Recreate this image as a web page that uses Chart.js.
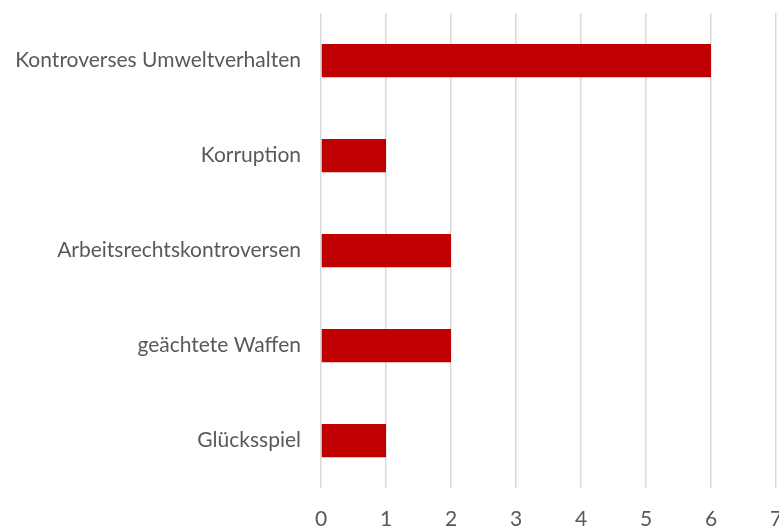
<!DOCTYPE html>
<html>
<head>
<meta charset="utf-8">
<script src="https://cdn.jsdelivr.net/npm/chart.js@4"></script>
<style>
  html, body { margin: 0; padding: 0; background: #fff; overflow: hidden; }
  #wrap { position: absolute; left: 0; top: 0; width: 790px; height: 526px; }
</style>
</head>
<body>
<div id="wrap"><canvas id="kontroversen" width="790" height="526"></canvas></div>
<script>
var kategorien = ["Kontroverses Umweltverhalten", "Korruption", "Arbeitsrechtskontroversen", "geächtete Waffen", "Glücksspiel"];
var anzahl = [6, 1, 2, 2, 1];
var achseMin = 0;
var achseMax = 7;

var ctx = document.getElementById("kontroversen").getContext('2d');
var chart = new Chart(ctx, {
    type: 'bar',
    data: {
        labels: kategorien,
        datasets: [{
            label: 'Anzahl',
            data: anzahl,
            backgroundColor: '#C00000',
            borderWidth: 0,
            categoryPercentage: 1,
            barPercentage: 0.35
        }]
    },
    options: {
        indexAxis: 'y',
        responsive: false,
        animation: false,
        layout: {
            padding: { top: 13, right: 14, left: 0, bottom: 0 }
        },
        plugins: {
            legend: { display: false },
            tooltip: { enabled: false }
        },
        scales: {
            x: {
                min: achseMin,
                max: achseMax,
                ticks: {
                    stepSize: 1,
                    color: '#595959',
                    padding: 19,
                    font: { family: 'Lato', size: 21 }
                },
                grid: {
                    color: '#d9d9d9',
                    lineWidth: 1.5,
                    drawTicks: false
                },
                border: { display: false },
                afterFit: function (scale) {
                    scale.height = 38;
                    scale.paddingLeft = 0;
                    scale.paddingRight = 0;
                }
            },
            y: {
                ticks: {
                    color: '#595959',
                    padding: 20,
                    font: { family: 'Lato', size: 21 }
                },
                grid: { display: false, drawTicks: false },
                border: { display: false },
                afterFit: function (scale) {
                    scale.width = 321;
                    scale.paddingTop = 0;
                    scale.paddingBottom = 0;
                }
            }
        }
    }
});
</script>
</body>
</html>
